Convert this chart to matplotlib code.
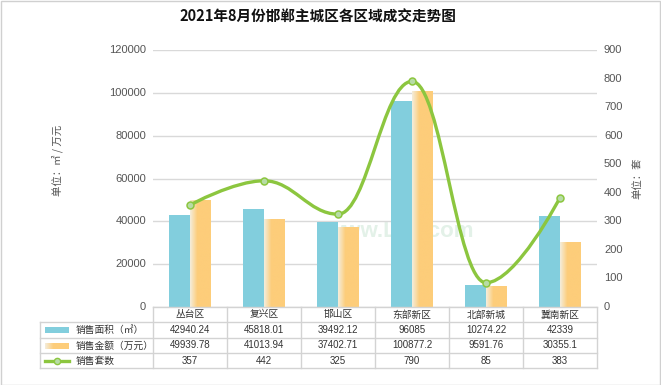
import numpy as np
import matplotlib
matplotlib.use('Agg')
import matplotlib.pyplot as plt
from matplotlib.path import Path
from matplotlib.patches import PathPatch, Rectangle
from matplotlib.lines import Line2D
from matplotlib.colors import LinearSegmentedColormap

# ---------------- data ----------------
title = '2021年8月份邯郸主城区各区域成交走势图'
categories = ['丛台区', '复兴区', '邯山区', '东部新区', '北部新城', '冀南新区']
area = [42940.24, 45818.01, 39492.12, 96085, 10274.22, 42339]
amount = [49939.78, 41013.94, 37402.71, 100877.2, 9591.76, 30355.1]
units = [357, 442, 325, 790, 85, 383]
area_labels = ['42940.24', '45818.01', '39492.12', '96085', '10274.22', '42339']
amount_labels = ['49939.78', '41013.94', '37402.71', '100877.2', '9591.76', '30355.1']
unit_labels = ['357', '442', '325', '790', '85', '383']
series_names = ['销售面积（㎡）', '销售金额（万元）', '销售套数']
left_ticks = [0, 20000, 40000, 60000, 80000, 100000, 120000]
right_ticks = [0, 100, 200, 300, 400, 500, 600, 700, 800, 900]
left_unit = '单位：㎡ / 万元'
right_unit = '单位：套'

BLUE = '#82cedd'
ORANGE = '#fdcd7a'
ORANGE_LIGHT = '#f4eddc'
GREEN = '#8cc63f'
GRID = '#d9d9d9'
TXT = '#555555'
FONT = ['Liberation Sans', 'Noto Sans CJK SC', 'DejaVu Sans']
CJK = ['Noto Sans CJK SC', 'DejaVu Sans']
plt.rcParams['font.family'] = FONT

W, H = 661, 385
fig = plt.figure(figsize=(W / 100, H / 100), dpi=100)


def fx(px):
    return px / W


def fy(py):
    return 1 - py / H


L, R, T, B = 153, 597, 50, 307
ax = fig.add_axes([fx(L), fy(B), fx(R) - fx(L), fy(T) - fy(B)])
ax2 = ax.twinx()

x = np.arange(len(categories))
bw = 0.28
ax.bar(x - bw / 2, area, bw, color=BLUE, zorder=2)
obars = ax.bar(x + bw / 2, amount, bw, color=ORANGE, zorder=2)
cmap = LinearSegmentedColormap.from_list('og', [(0, ORANGE_LIGHT), (0.35, ORANGE), (1, ORANGE)])
grad = np.linspace(0, 1, 64).reshape(1, -1)
for b in obars:
    x0 = b.get_x()
    im = ax.imshow(grad, extent=[x0, x0 + b.get_width(), 0, b.get_height()],
                   aspect='auto', cmap=cmap, zorder=3, interpolation='bilinear')
    im.set_clip_path(b)

ax.set_xlim(-0.5, len(categories) - 0.5)
ax.set_ylim(0, 120000)
ax2.set_ylim(0, 900)
for t in left_ticks:
    ax.axhline(t, color=GRID, lw=1, zorder=1)
for a in (ax, ax2):
    for s in a.spines.values():
        s.set_visible(False)
    a.set_xticks([])
    a.set_yticks([])
    a.patch.set_visible(False)
ax.set_zorder(1)
ax2.set_zorder(2)

# left / right tick labels
for t in left_ticks:
    yy = B - (B - T) * t / 120000
    fig.text(fx(146), fy(yy), f'{t}', ha='right', va='center', fontsize=8, color=TXT)
for t in right_ticks:
    yy = B - (B - T) * t / 900
    fig.text(fx(604), fy(yy), f'{t}', ha='left', va='center', fontsize=8, color=TXT)

fig.text(fx(57), fy(160), left_unit, rotation=90, ha='center', va='center',
         fontsize=7.5, color=TXT, family=CJK)
fig.text(fx(637), fy(178), right_unit, rotation=90, ha='center', va='center',
         fontsize=7.5, color=TXT, family=CJK)


# Highcharts-like spline through the points
def spline_path(xs, ys):
    sm, den = 1.5, 2.5
    n = len(xs)
    lc = [None] * n
    rc = [None] * n
    for i in range(1, n - 1):
        px, py = xs[i], ys[i]
        lx, ly = xs[i - 1], ys[i - 1]
        nx, ny = xs[i + 1], ys[i + 1]
        lcx, lcy = (sm * px + lx) / den, (sm * py + ly) / den
        rcx, rcy = (sm * px + nx) / den, (sm * py + ny) / den
        corr = ((rcy - lcy) * (rcx - px)) / (rcx - lcx) + py - rcy
        lcy += corr
        rcy += corr
        if lcy > ly and lcy > py:
            lcy = max(ly, py); rcy = 2 * py - lcy
        elif lcy < ly and lcy < py:
            lcy = min(ly, py); rcy = 2 * py - lcy
        if rcy > ny and rcy > py:
            rcy = max(ny, py); lcy = 2 * py - rcy
        elif rcy < ny and rcy < py:
            rcy = min(ny, py); lcy = 2 * py - rcy
        lc[i] = (lcx, lcy)
        rc[i] = (rcx, rcy)
    verts = [(xs[0], ys[0])]
    codes = [Path.MOVETO]
    for i in range(n - 1):
        c1 = rc[i] if rc[i] else (xs[i], ys[i])
        c2 = lc[i + 1] if lc[i + 1] else (xs[i + 1], ys[i + 1])
        verts += [c1, c2, (xs[i + 1], ys[i + 1])]
        codes += [Path.CURVE4] * 3
    return Path(verts, codes)


ax2.add_patch(PathPatch(spline_path(list(x.astype(float)), [float(u) for u in units]),
                        fill=False, edgecolor=GREEN, lw=2.4, zorder=4, capstyle='round'))
ax2.plot(x, units, 'o', ms=5, mfc='#b7dca6', mec=GREEN, mew=1.1, zorder=5, ls='none')

# watermark
fig.text(fx(400), fy(232), 'www.Ljia.com', ha='center', va='center', fontsize=16,
         color='#e3f1e8', fontweight='bold', zorder=0)

# ---------------- data table ----------------
LC = '#d3d3d3'
rows_y = [307, 322, 338, 353, 368]
colw = (R - L) / len(categories)
cols_x = [L + i * colw for i in range(len(categories) + 1)]
TL = 40


def hline(x0, x1, yy):
    fig.add_artist(Line2D([fx(x0), fx(x1)], [fy(yy), fy(yy)], color=LC, lw=1))


def vline(xx, y0, y1):
    fig.add_artist(Line2D([fx(xx), fx(xx)], [fy(y0), fy(y1)], color=LC, lw=1))


hline(L, R, rows_y[0])
for yy in rows_y[1:]:
    hline(TL, R, yy)
vline(TL, rows_y[1], rows_y[-1])
for xx in cols_x:
    vline(xx, rows_y[0], rows_y[-1])

for i, c in enumerate(categories):
    cx = (cols_x[i] + cols_x[i + 1]) / 2
    fig.text(fx(cx), fy((rows_y[0] + rows_y[1]) / 2), c, ha='center', va='center',
             fontsize=7, color='#333333', family=CJK)
    for r, labels in enumerate([area_labels, amount_labels, unit_labels]):
        fig.text(fx(cx), fy((rows_y[r + 1] + rows_y[r + 2]) / 2), labels[i],
                 ha='center', va='center', fontsize=7, color='#333333')

# legend cells
sx0, sx1 = 45, 69
for r, name in enumerate(series_names):
    yc = (rows_y[r + 1] + rows_y[r + 2]) / 2
    fig.text(fx(76), fy(yc), name, ha='left', va='center', fontsize=7,
             color='#333333', family=CJK)
    if r == 0:
        fig.add_artist(Rectangle((fx(sx0), fy(yc + 3)), fx(sx1 - sx0), (6 / H),
                                 facecolor=BLUE, edgecolor='none'))
    elif r == 1:
        lax = fig.add_axes([fx(sx0), fy(yc + 3), fx(sx1 - sx0), 6 / H])
        lax.imshow(grad, aspect='auto', cmap=cmap, extent=[0, 1, 0, 1])
        lax.axis('off')
    else:
        fig.add_artist(Line2D([fx(sx0), fx(sx1)], [fy(yc), fy(yc)], color=GREEN, lw=2.4))
        fig.add_artist(Line2D([fx((sx0 + sx1) / 2)], [fy(yc)], marker='o', ms=4.5,
                              mfc='#b7dca6', mec=GREEN, mew=1))

fig.text(fx(318), fy(17), title, ha='center', va='center', fontsize=10.5,
         fontweight='bold', color='#111111', family=CJK)

# outer frame
fig.add_artist(Rectangle((0.5 / W, 0.5 / H), 1 - 1.5 / W, 1 - 1.5 / H, transform=fig.transFigure,
                         fill=False, edgecolor='#d0d0d0', lw=1))

fig.savefig('out.png', dpi=100)
